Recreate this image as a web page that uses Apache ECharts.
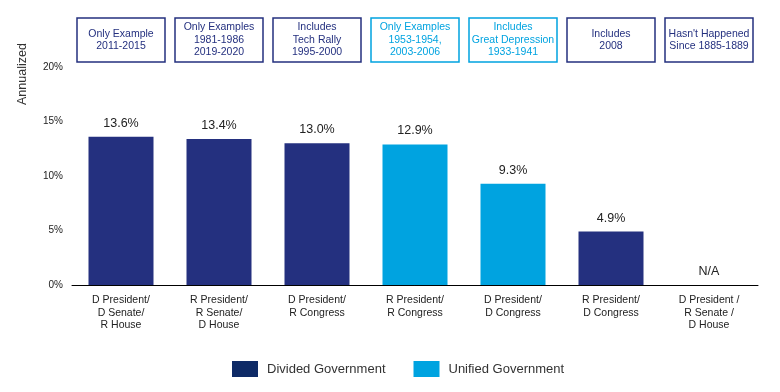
<!DOCTYPE html>
<html><head><meta charset="utf-8">
<script src="https://cdn.jsdelivr.net/npm/echarts@6/dist/echarts.min.js"></script>
<style>html,body{margin:0;padding:0;background:#fff}#c{width:780px;height:392px}</style>
</head><body><div id="c"></div>
<script>
const categories = ['D President/\nD Senate/\nR House','R President/\nR Senate/\nD House','D President/\nR Congress','R President/\nR Congress','D President/\nD Congress','R President/\nD Congress','D President /\nR Senate /\nD House'];
const divided = [13.6, 13.4, 13.0, null, null, 4.9, 0];
const unified = [null, null, null, 12.9, 9.3, null, null];
const naFlags = [false, false, false, false, false, false, true];
const boxTexts = ['Only Example\n2011-2015','Only Examples\n1981-1986\n2019-2020','Includes\nTech Rally\n1995-2000','Only Examples\n1953-1954,\n2003-2006','Includes\nGreat Depression\n1933-1941','Includes\n2008',"Hasn't Happened\nSince 1885-1889"];
const boxType = ['d','d','d','u','u','d','d'];
const yTicks = [0, 5, 10, 15, 20];

const DARK = '#24307F', LIGHT = '#00A3E0', FONT = 'Liberation Sans, Arial, sans-serif';
const chart = echarts.init(document.getElementById('c'));
const lbl = {show:true, position:'top', distance:7, color:'#222', fontSize:12.5, fontFamily:FONT,
  formatter: p => naFlags[p.dataIndex] ? 'N/A' : p.value.toFixed(1) + '%'};
const LH = 12.5, BOXH = 44;
chart.setOption({
  animation:false,
  grid:{left:72, right:22, top:67, bottom:107, outerBoundsMode:'none', containLabel:false},
  graphic:[{type:'text', x:16, y:105, rotation:Math.PI/2,
    style:{text:'Annualized', fontFamily:FONT, fontSize:12.5, fill:'#333', align:'left', verticalAlign:'top'}}],
  legend:{left:227, top:356, itemWidth:26, itemHeight:16, itemGap:28, icon:'rect',
    textStyle:{fontFamily:FONT, fontSize:13, color:'#333', padding:[0,0,0,4]},
    data:[{name:'Divided Government', itemStyle:{color:'#0E2A66'}},{name:'Unified Government'}]},
  xAxis:[{type:'category', data:categories, axisLine:{lineStyle:{color:'#000', width:1}}, axisTick:{show:false},
    axisLabel:{interval:0, color:'#222', fontFamily:FONT, fontSize:10.5, lineHeight:LH, margin:9}},
   {type:'category', data:boxTexts.map((t,i)=>{
      const n = t.split('\n').length; const pv = (BOXH - n*LH)/2;
      return {value:t, textStyle:{color: boxType[i]==='u'?LIGHT:DARK, borderColor: boxType[i]==='u'?LIGHT:DARK, padding:[pv,0,pv,0]}};}),
    position:'top', axisLine:{show:false}, axisTick:{show:false},
    axisLabel:{interval:0, margin:5, fontFamily:FONT, fontSize:10.5, lineHeight:LH, width:88,
      borderWidth:1.5, align:'center', verticalAlign:'bottom'}}],
  yAxis:{type:'value', min:yTicks[0], max:yTicks[yTicks.length-1], interval:5,
    axisLine:{show:false}, axisTick:{show:false}, splitLine:{show:false},
    axisLabel:{formatter:'{value}%', color:'#222', fontFamily:FONT, fontSize:10, margin:9}},
  series:[
    {name:'Divided Government', type:'bar', data:divided, barWidth:65, barGap:'-100%', itemStyle:{color:DARK}, label:lbl},
    {name:'Unified Government', type:'bar', data:unified, barWidth:65, itemStyle:{color:LIGHT}, label:lbl}
  ]
});
</script></body></html>
